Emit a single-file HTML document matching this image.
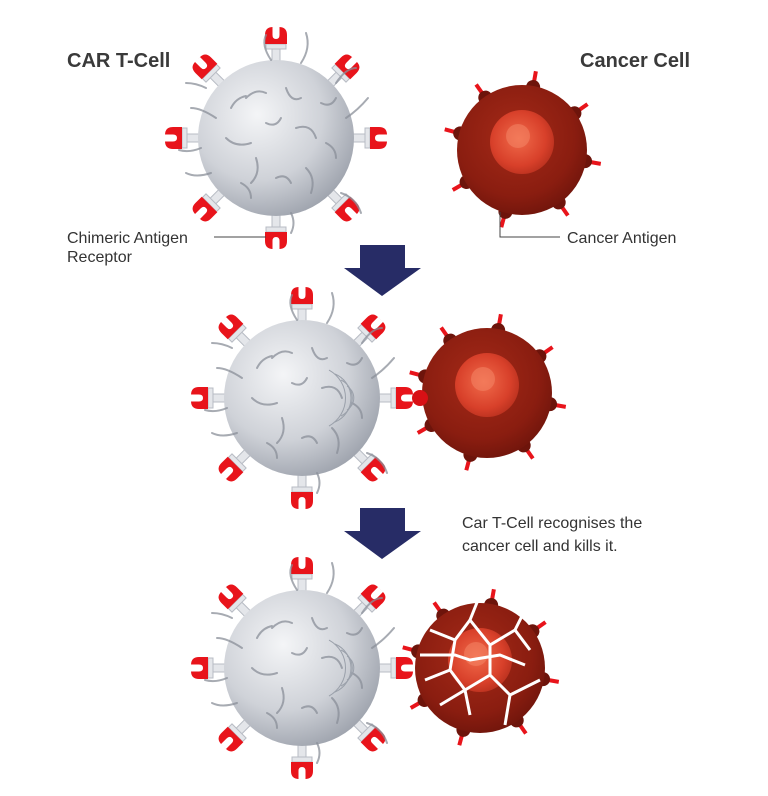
<!DOCTYPE html>
<html><head><meta charset="utf-8"><style>
body{margin:0;background:#fff;}
svg{display:block}
text{font-family:"Liberation Sans",sans-serif;}
</style></head><body>
<svg width="768" height="796" viewBox="0 0 768 796" xmlns="http://www.w3.org/2000/svg">
<defs>
<radialGradient id="tg" cx="0.38" cy="0.35" r="0.7">
<stop offset="0" stop-color="#f4f5f7"/><stop offset="0.6" stop-color="#cfd2d8"/><stop offset="1" stop-color="#9ea3ad"/>
</radialGradient>
<radialGradient id="cg" cx="0.45" cy="0.4" r="0.65">
<stop offset="0" stop-color="#a52a18"/><stop offset="0.7" stop-color="#8a1d10"/><stop offset="1" stop-color="#6d140b"/>
</radialGradient>
<radialGradient id="ng" cx="0.45" cy="0.45" r="0.6">
<stop offset="0" stop-color="#f06a4a"/><stop offset="0.7" stop-color="#d8402a"/><stop offset="1" stop-color="#b8301e"/>
</radialGradient>
<g id="rec">
<rect x="-4" y="-92" width="8" height="20" fill="#e4e6ea" stroke="#b8bcc4" stroke-width="1"/>
<rect x="-10" y="-94" width="20" height="5" fill="#e4e6ea" stroke="#b8bcc4" stroke-width="1"/>
<path d="M-11,-94 L-11,-103 Q-11,-111 -3,-111 L3,-111 Q11,-111 11,-103 L11,-94 Z M-3.5,-111 L-3.5,-103 Q-3.5,-99 0,-99 Q3.5,-99 3.5,-103 L3.5,-111 Z" fill="#e8141b" fill-rule="evenodd"/>
</g>
<g id="hairs" fill="none" stroke="#8a8f99" stroke-width="2" stroke-linecap="round" opacity="0.75">
<path d="M-30,-40 q10,-10 20,-5"/><path d="M10,-50 q5,15 15,10"/><path d="M-50,0 q10,10 25,5"/>
<path d="M20,-10 q15,-5 20,10"/><path d="M-20,20 q5,15 -5,25"/><path d="M30,30 q10,10 5,25"/>
<path d="M-10,-15 q10,5 15,-5"/><path d="M-45,-30 q5,-10 15,-12"/><path d="M45,-35 q10,5 15,-5"/>
<path d="M0,40 q10,-5 15,5"/><path d="M-35,45 q10,5 10,15"/><path d="M50,5 q10,5 10,15"/>
<path d="M-60,-20 q-15,-10 -25,-10"/><path d="M-65,35 q-15,5 -25,0"/><path d="M60,-55 q10,-15 20,-15"/>
<path d="M-5,-78 q-10,-15 -5,-25"/><path d="M25,-75 q10,-15 5,-30"/><path d="M65,55 q15,5 20,20"/>
<path d="M-70,-50 q-10,-5 -20,-5"/><path d="M15,75 q5,10 0,20"/><path d="M-75,10 q-12,5 -22,2"/><path d="M70,-20 q12,-8 22,-20"/>
</g>
<g id="tcell">
<use href="#rec" transform="rotate(0)"/><use href="#rec" transform="rotate(45)"/><use href="#rec" transform="rotate(90)"/><use href="#rec" transform="rotate(135)"/>
<use href="#rec" transform="rotate(180)"/><use href="#rec" transform="rotate(225)"/><use href="#rec" transform="rotate(270)"/><use href="#rec" transform="rotate(315)"/>
<circle r="78" fill="url(#tg)"/>
<use href="#hairs"/>
</g>
<g id="ant">
<rect x="-2" y="-80" width="4" height="18" fill="#e8141b"/>
<circle cy="-64" r="7" fill="#6d140b"/>
</g>
<g id="ccell">
<use href="#ant" transform="rotate(10)"/><use href="#ant" transform="rotate(55)"/><use href="#ant" transform="rotate(100)"/><use href="#ant" transform="rotate(145)"/>
<use href="#ant" transform="rotate(195)"/><use href="#ant" transform="rotate(240)"/><use href="#ant" transform="rotate(285)"/><use href="#ant" transform="rotate(325)"/>
<circle r="65" fill="url(#cg)"/>
<circle cx="0" cy="-8" r="32" fill="url(#ng)"/>
<circle cx="-4" cy="-14" r="12" fill="#f58a6a" opacity="0.5"/>
</g>
<g id="waves" fill="none" stroke="#9aa0aa" stroke-width="1">
<path d="M-5,-12 a14,14 0 0,1 0,24"/><path d="M-11,-18 a20,20 0 0,1 0,36"/><path d="M-17,-24 a26,26 0 0,1 0,48"/><path d="M-23,-28 a32,32 0 0,1 0,56"/>
</g>
</defs>

<text x="67" y="67" font-size="20" font-weight="bold" fill="#3a3a3a">CAR T-Cell</text>
<text x="580" y="67" font-size="20" font-weight="bold" fill="#3a3a3a">Cancer Cell</text>

<use href="#tcell" transform="translate(276,138)"/>
<use href="#ccell" transform="translate(522,150)"/>

<text x="67" y="243" font-size="16" fill="#333">Chimeric Antigen</text>
<text x="67" y="262" font-size="16" fill="#333">Receptor</text>
<line x1="214" y1="237" x2="266" y2="237" stroke="#444" stroke-width="1"/>
<polyline points="500,212 500,237 560,237" fill="none" stroke="#444" stroke-width="1"/>
<text x="567" y="243" font-size="16" fill="#333">Cancer Antigen</text>

<path d="M360,245 H405 V268 H421 L382,296 L344,268 H360 Z" fill="#272c66"/>

<use href="#tcell" transform="translate(302,398)"/>
<use href="#waves" transform="translate(352,398)"/>
<use href="#ccell" transform="translate(487,393)"/>
<circle cx="420" cy="398" r="8" fill="#d81015"/>

<path d="M360,508 H405 V531 H421 L382,559 L344,531 H360 Z" fill="#272c66"/>
<text x="462" y="528" font-size="16" fill="#333">Car T-Cell recognises the</text>
<text x="462" y="551" font-size="16" fill="#333">cancer cell and kills it.</text>

<use href="#tcell" transform="translate(302,668)"/>
<use href="#waves" transform="translate(352,668)"/>
<use href="#ccell" transform="translate(480,668)"/>
<g fill="none" stroke="#fff" stroke-width="3" stroke-linejoin="round">
<path d="M430,630 L455,640 L470,620 L490,645 L515,630 L530,650"/>
<path d="M425,680 L450,670 L465,690 L490,675 L510,695 L540,680"/>
<path d="M455,640 L450,670 M490,645 L490,675 M470,620 L478,600"/>
<path d="M440,705 L465,690 L470,715 M510,695 L505,725 M515,630 L525,610"/>
<path d="M420,655 L455,655 L470,660 L500,655 L525,665"/>
</g>
</svg>
</body></html>
